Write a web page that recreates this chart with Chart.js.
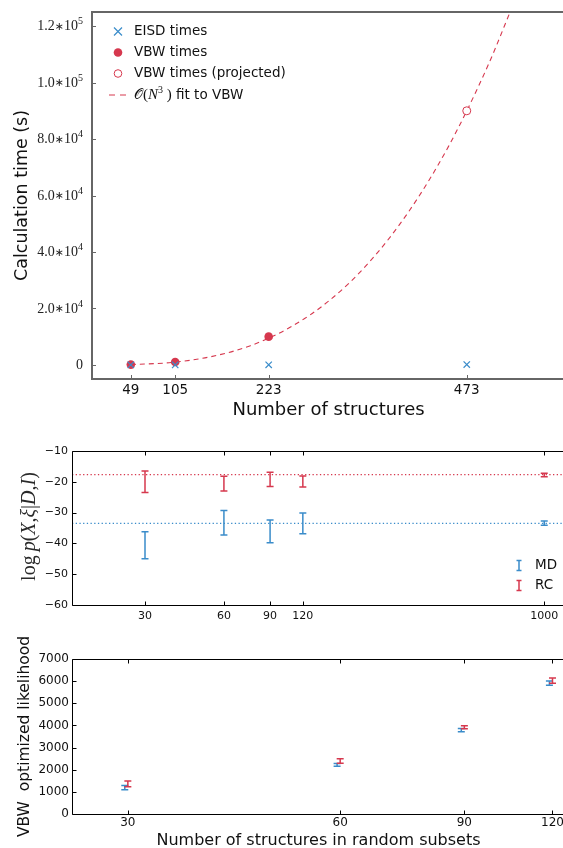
<!DOCTYPE html>
<html>
<head>
<meta charset="utf-8">
<script src="https://cdn.jsdelivr.net/npm/chart.js@4.4.1/dist/chart.umd.min.js"></script>
<style>
  html, body { margin: 0; padding: 0; background: #fff; overflow: hidden; }
  #page { position: relative; width: 563px; height: 848px; overflow: hidden; }
  canvas { position: absolute; left: 0; }
</style>
</head>
<body>
<div id="page">
  <canvas id="timeChart" width="600" height="430" style="top:0px"></canvas>
  <canvas id="logpChart" width="600" height="195" style="top:430px"></canvas>
  <canvas id="likelihoodChart" width="600" height="240" style="top:625px"></canvas>
</div>
<script>
var RED = '#d6384e';
var BLUE = '#3a8cca';
var INK = '#111';

// calculation time against number of structures
var structureCounts = [49, 105, 223, 473];
var eisdTimes = [2, 5, 20, 110];
var vbwCounts = [49, 105, 223];
var vbwTimes = [100, 1000, 10000];
var projectedCounts = [473];
var projectedTimes = [90000];
var fitCounts = [49, 100, 150, 200, 250, 300, 350, 400, 450, 500, 530];
var fitTimes = [100, 850, 2900, 6800, 13300, 22900, 36400, 54400, 77400, 106200, 126600];
var timeTicks = [0, 20000, 40000, 60000, 80000, 100000, 120000];
var timeTickLabels = ['0', '2.0*10^4', '4.0*10^4', '6.0*10^4', '8.0*10^4', '1.0*10^5', '1.2*10^5'];

// log p(X, xi | D, I) for growing subsets
var subsetSizes = [30, 60, 90, 120, 1000];
var mdLogp = [-40.6, -33.3, -36.1, -33.5, -33.4];
var mdLogpErr = [4.4, 4.0, 3.7, 3.4, 0.7];
var rcLogp = [-20.0, -20.6, -19.2, -19.9, -17.8];
var rcLogpErr = [3.5, 2.4, 2.3, 1.8, 0.55];
var mdReference = -33.5;
var rcReference = -17.7;
var logpTicks = [-60, -50, -40, -30, -20, -10];

// VBW optimized likelihood in random subsets
var randomSubsetSizes = [30, 60, 90, 120];
var mdSubsetSizes = [29.7, 59.4, 89.1, 118.8];
var mdLikelihood = [1190, 2220, 3790, 5910];
var mdLikelihoodErr = [100, 60, 70, 100];
var rcLikelihood = [1360, 2390, 3920, 6020];
var rcLikelihoodErr = [130, 100, 70, 120];
var likelihoodTicks = [0, 1000, 2000, 3000, 4000, 5000, 6000, 7000];

Chart.defaults.font.family = '"DejaVu Sans", sans-serif';
Chart.defaults.color = INK;
Chart.defaults.animation = false;

function points( xs, ys )
{
    return xs.map( function( x, i ) { return { x: x, y: ys[ i ] }; } );
}

function fixedTicks( values )
{
    return function( axis ) {
        axis.ticks = values.map( function( v ) { return { value: v }; } );
    };
}

function fixedSize( w, h )
{
    return function( axis ) {
        if ( w ) axis.width = w;
        if ( h ) axis.height = h;
    };
}

// box round the plot area with inward tick marks
function framePlugin( color, width, withTopTicks )
{
    return {
        id: 'frame',
        afterDatasetsDraw: function( chart ) {
            var a = chart.chartArea, ctx = chart.ctx;
            var xs = chart.scales.x, ys = chart.scales.y;
            var off = width % 2 ? 0.5 : 0;
            var L = Math.round( a.left ) + off, R = Math.round( a.right ) + off;
            var T = Math.round( a.top ) + off, B = Math.round( a.bottom ) + off;
            ctx.save();
            ctx.strokeStyle = color;
            ctx.lineWidth = width;
            ctx.beginPath();
            ctx.moveTo( R, T ); ctx.lineTo( L, T ); ctx.lineTo( L, B ); ctx.lineTo( R, B ); ctx.lineTo( R, T );
            ctx.stroke();
            ctx.lineWidth = 1;
            ctx.beginPath();
            xs.ticks.forEach( function( t ) {
                var px = Math.round( xs.getPixelForValue( t.value ) ) + 0.5;
                ctx.moveTo( px, B ); ctx.lineTo( px, B - 4 );
                if ( withTopTicks ) { ctx.moveTo( px, T ); ctx.lineTo( px, T + 4 ); }
            } );
            ys.ticks.forEach( function( t ) {
                var py = Math.round( ys.getPixelForValue( t.value ) ) + 0.5;
                ctx.moveTo( L, py ); ctx.lineTo( L + 4, py );
            } );
            ctx.stroke();
            ctx.restore();
        }
    };
}

// vertical error bars with caps, from each dataset's errorBars list
var errorBarPlugin = {
    id: 'errorBars',
    afterDatasetsDraw: function( chart ) {
        var ctx = chart.ctx;
        chart.data.datasets.forEach( function( ds, di ) {
            if ( !ds.errorBars ) return;
            var meta = chart.getDatasetMeta( di );
            var ys = chart.scales[ meta.yAxisID ];
            ctx.save();
            ctx.strokeStyle = ds.borderColor;
            ctx.lineWidth = 1.5;
            meta.data.forEach( function( pt, i ) {
                var v = ds.data[ i ].y, e = ds.errorBars[ i ];
                var top = ys.getPixelForValue( v + e ), bottom = ys.getPixelForValue( v - e );
                ctx.beginPath();
                ctx.moveTo( pt.x, top ); ctx.lineTo( pt.x, bottom );
                ctx.moveTo( pt.x - 3.5, top ); ctx.lineTo( pt.x + 3.5, top );
                ctx.moveTo( pt.x - 3.5, bottom ); ctx.lineTo( pt.x + 3.5, bottom );
                ctx.stroke();
            } );
            ctx.restore();
        } );
    }
};

// draws a list of [text, font, raise] runs one after another
function drawRuns( ctx, runs, x, y )
{
    runs.forEach( function( r ) {
        ctx.font = r[ 1 ];
        ctx.fillText( r[ 0 ], x, y + ( r[ 2 ] || 0 ) );
        x += ctx.measureText( r[ 0 ] ).width;
    } );
    return x;
}

function runsWidth( ctx, runs )
{
    var w = 0;
    runs.forEach( function( r ) { ctx.font = r[ 1 ]; w += ctx.measureText( r[ 0 ] ).width; } );
    return w;
}

// y labels of the time axis are written as mantissa * 10^exponent
var timeTickLabelPlugin = {
    id: 'timeTickLabels',
    afterDraw: function( chart ) {
        var ctx = chart.ctx, ys = chart.scales.y;
        var num = '14px "Liberation Serif"', sup = '10px "Liberation Serif"', op = '11px "DejaVu Sans"';
        ctx.save();
        ctx.fillStyle = '#222';
        ctx.textBaseline = 'middle';
        timeTicks.forEach( function( v, i ) {
            var parts = timeTickLabels[ i ].split( /[*^]/ );
            var runs = parts.length === 3
                ? [ [ parts[ 0 ], num ], [ '\u2217', op, 0.5 ], [ parts[ 1 ], num ], [ parts[ 2 ], sup, -5 ] ]
                : [ [ parts[ 0 ], num ] ];
            var w = runsWidth( ctx, runs );
            drawRuns( ctx, runs, 83 - w, ys.getPixelForValue( v ) + 0.5 );
        } );
        ctx.restore();
    }
};

var timeLegendPlugin = {
    id: 'timeLegend',
    afterDraw: function( chart ) {
        var ctx = chart.ctx, ds = chart.data.datasets;
        var mx = 118, tx = 134, rows = [ 31.5, 52.5, 73.5, 95 ];
        ctx.save();
        ctx.textBaseline = 'middle';
        ctx.fillStyle = INK;
        ctx.font = '13.5px "DejaVu Sans"';
        ctx.fillText( ds[ 0 ].label, tx, rows[ 0 ] );
        ctx.fillText( ds[ 1 ].label, tx, rows[ 1 ] );
        ctx.fillText( ds[ 2 ].label, tx, rows[ 2 ] );
        var sans = '13.5px "DejaVu Sans"', serif = '14px "DejaVu Serif"', ital = 'italic 15px "Liberation Serif"';
        drawRuns( ctx, [ [ '\uD835\uDCAA', serif ], [ '(', '15px "Liberation Serif"' ], [ 'N', ital ],
                         [ '3', '10px "Liberation Serif"', -5 ], [ ' )', '15px "Liberation Serif"' ], [ ' fit to VBW', sans ] ], tx, rows[ 3 ] );

        // markers
        ctx.strokeStyle = BLUE; ctx.lineWidth = 1.2;
        ctx.beginPath();
        ctx.moveTo( mx - 4, rows[ 0 ] - 4 ); ctx.lineTo( mx + 4, rows[ 0 ] + 4 );
        ctx.moveTo( mx - 4, rows[ 0 ] + 4 ); ctx.lineTo( mx + 4, rows[ 0 ] - 4 );
        ctx.stroke();
        ctx.fillStyle = RED; ctx.strokeStyle = RED;
        ctx.beginPath(); ctx.arc( mx, rows[ 1 ], 4.3, 0, Math.PI * 2 ); ctx.fill();
        ctx.lineWidth = 1;
        ctx.beginPath(); ctx.arc( mx, rows[ 2 ], 3.8, 0, Math.PI * 2 ); ctx.stroke();
        ctx.setLineDash( [ 6, 5 ] );
        ctx.beginPath(); ctx.moveTo( 109, rows[ 3 ] ); ctx.lineTo( 128, rows[ 3 ] ); ctx.stroke();
        ctx.restore();
    }
};

function drawTimeChart()
{
    var ctx = document.getElementById( 'timeChart' ).getContext( '2d' );
    new Chart( ctx, {
        type: 'scatter',
        data: {
            datasets: [
                { label: 'EISD times', data: points( structureCounts, eisdTimes ), pointStyle: 'crossRot',
                  pointRadius: 4.5, borderColor: BLUE, borderWidth: 1.2, order: 0 },
                { label: 'VBW times', data: points( vbwCounts, vbwTimes ), pointStyle: 'circle',
                  pointRadius: 4.3, backgroundColor: RED, borderColor: RED, borderWidth: 0, order: 1 },
                { label: 'VBW times (projected)', data: points( projectedCounts, projectedTimes ), pointStyle: 'circle',
                  pointRadius: 4, backgroundColor: '#fff', borderColor: RED, borderWidth: 1, order: 2 },
                { label: 'O(N^3) fit to VBW', data: points( fitCounts, fitTimes ), showLine: true, pointRadius: 0,
                  borderColor: RED, borderWidth: 1.1, borderDash: [ 5, 4 ], cubicInterpolationMode: 'monotone', order: 3 }
            ]
        },
        options: {
            responsive: false,
            layout: { padding: { top: 12, right: 35, left: 0, bottom: 0 } },
            plugins: { legend: { display: false }, tooltip: { enabled: false } },
            scales: {
                x: {
                    type: 'linear', min: 0, max: 597,
                    afterBuildTicks: fixedTicks( structureCounts ),
                    afterFit: fixedSize( 0, 51 ),
                    grid: { display: false, drawTicks: false }, border: { display: false },
                    ticks: { font: { size: 13.5 }, padding: 3, maxRotation: 0, autoSkip: false,
                             callback: function( v ) { return String( v ); } },
                    title: { display: true, text: 'Number of structures', font: { size: 18 }, padding: { top: 0, bottom: 9 } }
                },
                y: {
                    min: -5000, max: 125000,
                    afterBuildTicks: fixedTicks( timeTicks ),
                    afterFit: fixedSize( 92, 0 ),
                    grid: { display: false, drawTicks: false }, border: { display: false },
                    ticks: { display: false },
                    title: { display: true, text: 'Calculation time (s)', font: { size: 17.5 }, padding: { top: 12, bottom: 0 } }
                }
            }
        },
        plugins: [ framePlugin( '#666', 2, false ), timeTickLabelPlugin, timeLegendPlugin ]
    } );
}

var logpDecorPlugin = {
    id: 'logpDecor',
    afterDraw: function( chart ) {
        var ctx = chart.ctx, ds = chart.data.datasets;
        ctx.save();
        // legend with error bar glyphs
        var rows = [ 135.5, 155.5 ], gx = 519;
        [ ds[ 0 ], ds[ 1 ] ].forEach( function( d, i ) {
            var y = rows[ i ];
            ctx.strokeStyle = d.borderColor; ctx.lineWidth = 1.5;
            ctx.beginPath();
            ctx.moveTo( gx, y - 5 ); ctx.lineTo( gx, y + 5 );
            ctx.moveTo( gx - 2.5, y - 5 ); ctx.lineTo( gx + 2.5, y - 5 );
            ctx.moveTo( gx - 2.5, y + 5 ); ctx.lineTo( gx + 2.5, y + 5 );
            ctx.stroke();
            ctx.fillStyle = INK; ctx.font = '13.5px "DejaVu Sans"'; ctx.textBaseline = 'middle';
            ctx.fillText( d.label, 535, y );
        } );
        // y axis title, set like a formula
        var up = '20px "Liberation Serif"', it = 'italic 20px "Liberation Serif"';
        var runs = [ [ 'log\u2009', up ], [ 'p', it ], [ '(', up ], [ 'X', it ], [ ',', up ], [ '\u03BE', it ],
                     [ '|', up ], [ 'D', it ], [ ',', up ], [ 'I', it ], [ ')', up ] ];
        var w = runsWidth( ctx, runs );
        ctx.translate( 30, 96.5 );
        ctx.rotate( -Math.PI / 2 );
        ctx.fillStyle = '#2a2a2a'; ctx.textBaseline = 'middle';
        drawRuns( ctx, runs, -w / 2, 0 );
        ctx.restore();
    }
};

function drawLogpChart()
{
    var ctx = document.getElementById( 'logpChart' ).getContext( '2d' );
    var xmin = 15.8, xmax = 1200;
    new Chart( ctx, {
        type: 'scatter',
        data: {
            datasets: [
                { label: 'MD', data: points( subsetSizes, mdLogp ), errorBars: mdLogpErr, pointRadius: 0, borderColor: BLUE },
                { label: 'RC', data: points( subsetSizes, rcLogp ), errorBars: rcLogpErr, pointRadius: 0, borderColor: RED },
                { label: 'MD reference', data: points( [ xmin, xmax ], [ mdReference, mdReference ] ), showLine: true,
                  pointRadius: 0, borderColor: BLUE, borderWidth: 1.2, borderDash: [ 1.3, 2.4 ] },
                { label: 'RC reference', data: points( [ xmin, xmax ], [ rcReference, rcReference ] ), showLine: true,
                  pointRadius: 0, borderColor: RED, borderWidth: 1.2, borderDash: [ 1.3, 2.4 ] }
            ]
        },
        options: {
            responsive: false,
            layout: { padding: { top: 21, right: 35, left: 0, bottom: 0 } },
            plugins: { legend: { display: false }, tooltip: { enabled: false } },
            scales: {
                x: {
                    type: 'logarithmic', min: xmin, max: xmax,
                    afterBuildTicks: fixedTicks( subsetSizes ),
                    afterFit: fixedSize( 0, 20 ),
                    grid: { display: false, drawTicks: false }, border: { display: false },
                    ticks: { font: { size: 11 }, padding: 5, maxRotation: 0, autoSkip: false,
                             callback: function( v ) { return String( v ); } }
                },
                y: {
                    min: -60, max: -10,
                    afterBuildTicks: fixedTicks( logpTicks ),
                    afterFit: fixedSize( 72, 0 ),
                    grid: { display: false, drawTicks: false }, border: { display: false },
                    ticks: { font: { size: 11 }, padding: 4,
                             callback: function( v ) { return String( v ).replace( '-', '\u2212' ); } }
                }
            }
        },
        plugins: [ framePlugin( '#000', 1, true ), errorBarPlugin, logpDecorPlugin ]
    } );
}

function drawLikelihoodChart()
{
    var ctx = document.getElementById( 'likelihoodChart' ).getContext( '2d' );
    new Chart( ctx, {
        type: 'scatter',
        data: {
            datasets: [
                { label: 'MD', data: points( mdSubsetSizes, mdLikelihood ), errorBars: mdLikelihoodErr, pointRadius: 0, borderColor: BLUE },
                { label: 'RC', data: points( randomSubsetSizes, rcLikelihood ), errorBars: rcLikelihoodErr, pointRadius: 0, borderColor: RED }
            ]
        },
        options: {
            responsive: false,
            layout: { padding: { top: 34, right: 35, left: 0, bottom: 0 } },
            plugins: { legend: { display: false }, tooltip: { enabled: false } },
            scales: {
                x: {
                    type: 'logarithmic', min: 25, max: 125,
                    afterBuildTicks: fixedTicks( randomSubsetSizes ),
                    afterFit: fixedSize( 0, 51 ),
                    grid: { display: false, drawTicks: false }, border: { display: false },
                    ticks: { font: { size: 12 }, padding: 2, maxRotation: 0, autoSkip: false,
                             callback: function( v ) { return String( v ); } },
                    title: { display: true, text: 'Number of structures in random subsets', font: { size: 16 }, padding: { top: 0, bottom: 15 } }
                },
                y: {
                    min: 0, max: 7000,
                    afterBuildTicks: fixedTicks( likelihoodTicks ),
                    afterFit: fixedSize( 72, 0 ),
                    grid: { display: false, drawTicks: false }, border: { display: false },
                    ticks: { font: { size: 12 }, padding: 3, callback: function( v ) { return String( v ); } },
                    title: { display: true, text: 'VBW  optimized likelihood', font: { size: 15.5 }, padding: { top: 16, bottom: 0 } }
                }
            }
        },
        plugins: [ framePlugin( '#000', 1, true ), errorBarPlugin ]
    } );
}

drawTimeChart();
drawLogpChart();
drawLikelihoodChart();
</script>
</body>
</html>
